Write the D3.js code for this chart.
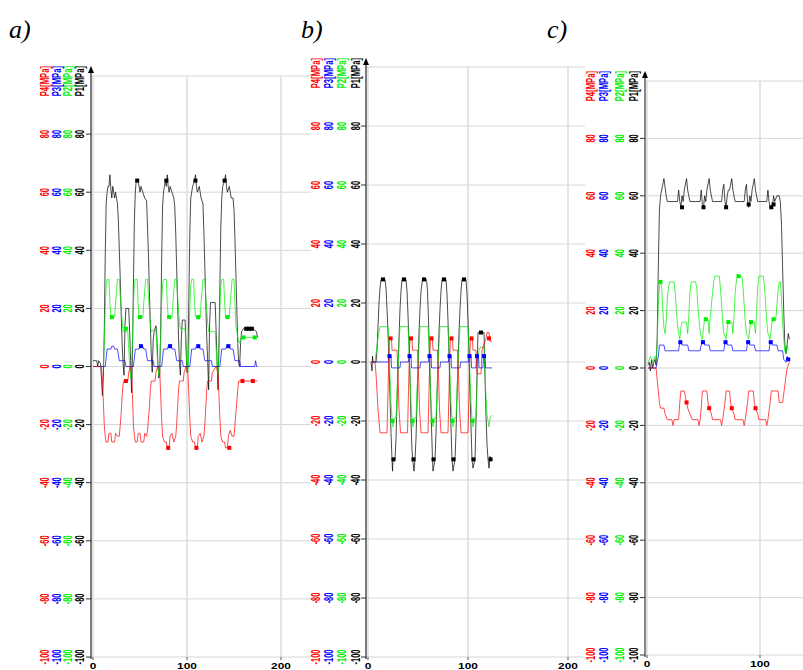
<!DOCTYPE html>
<html>
<head>
<meta charset="utf-8">
<script src="https://cdn.jsdelivr.net/npm/d3@7"></script>
<style>
  body { margin: 0; background: #fff; }
  svg { display: block; }
  .tick-lbl { font-family: 'Liberation Sans', Arial, sans-serif; font-size: 12px; font-weight: bold; }
  .x-lbl { font-family: 'Liberation Sans', Arial, sans-serif; font-size: 9.5px; font-weight: bold; }
  .panel-lbl { font-family: 'Liberation Serif', 'Times New Roman', serif; font-style: italic; font-size: 26px; }
</style>
</head>
<body>
<svg id="chart" width="803" height="670"></svg>
<script>
// ---- data: [time, pressure MPa] ----
const seriesNames = ['P1', 'P2', 'P3', 'P4'];
const seriesColors = ['#000000', '#00ee00', '#0000ff', '#ff0000'];
const yTicks = [-100, -80, -60, -40, -20, 0, 20, 40, 60, 80, 100];
const yTickLabels = ['-100', '-80', '-60', '-40', '-20', '0', '20', '40', '60', '80'];
const panelLabels = ['a)', 'b)', 'c)'];
const xTicksAB = [0, 100, 200];
const xTicksC = [0, 100];

// panel a
const aP1 = [[0,2],[4,2],[5,0],[6,2],[8,1],[9,-4],[10,-10],[11,-4],[12,12],[13,38],[14,56],[15,60],[16,62],[17,62],[18,66],[19,61],[20,58],[21,62],[22,60],[23,58],[24,60],[25,58],[26,56],[27,50],[28,40],[29,30],[30,18],[31,8],[32,1],[33,-3],[34,14],[35,20],[38,20],[39,12],[40,2],[41,-9],[42,4],[43,28],[44,50],[45,60],[46,64],[48,64],[49,62],[50,60],[51,62],[53,60],[55,58],[57,57],[58,48],[59,38],[60,26],[61,14],[62,4],[63,-2],[64,9],[65,12],[67,14],[68,10],[69,1],[70,-4],[71,-2],[72,12],[73,36],[74,55],[75,60],[76,62],[77,64],[78,62],[79,66],[80,62],[81,60],[82,62],[84,60],[86,58],[87,55],[88,46],[89,34],[90,22],[91,10],[92,1],[93,-3],[94,10],[95,16],[98,16],[99,6],[100,-2],[101,0],[102,24],[103,46],[104,58],[105,60],[106,62],[108,64],[109,66],[110,62],[111,60],[113,62],[115,58],[117,56],[118,46],[119,34],[120,22],[121,10],[122,2],[123,-8],[124,14],[125,22],[130,22],[131,12],[132,2],[133,-8],[134,8],[135,28],[136,48],[137,58],[138,62],[140,64],[141,66],[142,62],[143,60],[145,62],[147,58],[149,58],[150,54],[151,44],[152,32],[153,20],[154,8],[155,1],[156,0],[157,8],[158,12],[160,13],[170,13],[174,12],[175,10]];
const aP2 = [[0,0],[11,0],[12,8],[13,20],[14,28],[15,30],[17,30],[18,22],[19,17],[23,17],[24,22],[25,26],[26,30],[28,30],[29,24],[31,16],[32,12],[37,12],[38,6],[39,0],[40,-4],[41,0],[42,10],[43,22],[44,28],[45,30],[47,30],[48,22],[49,17],[53,17],[54,22],[55,26],[56,30],[58,30],[59,24],[61,15],[62,12],[67,13],[68,6],[69,0],[70,-3],[71,2],[72,10],[73,22],[74,28],[75,30],[78,30],[79,22],[80,17],[84,17],[85,22],[86,26],[87,30],[89,30],[90,24],[92,15],[93,13],[98,13],[99,6],[100,0],[101,-2],[102,6],[103,20],[104,28],[105,30],[107,30],[108,22],[109,17],[114,17],[115,22],[116,26],[117,30],[119,30],[120,24],[122,15],[123,12],[130,12],[131,6],[132,0],[133,-3],[134,4],[135,20],[136,28],[137,30],[139,30],[140,22],[141,17],[145,17],[146,22],[147,26],[148,30],[150,30],[151,22],[152,14],[154,10],[156,8],[158,10],[175,10]];
const aP3 = [[0,0],[13,0],[14,3],[15,6],[19,6],[20,7],[22,7],[23,6],[26,6],[27,4],[28,2],[34,2],[35,0],[43,0],[44,3],[45,6],[49,6],[50,7],[53,7],[54,6],[56,6],[57,4],[58,2],[64,2],[65,0],[73,0],[74,3],[75,6],[79,6],[80,7],[83,7],[84,6],[87,6],[88,4],[89,2],[95,2],[96,0],[103,0],[104,3],[105,6],[109,6],[110,7],[113,7],[114,6],[117,6],[118,4],[119,2],[126,2],[127,0],[135,0],[136,3],[137,6],[141,6],[142,7],[145,7],[146,6],[149,6],[150,4],[151,2],[156,2],[157,0],[172,0],[173,2],[174,0],[175,0]];
const aP4 = [[0,0],[9,0],[10,-4],[11,-12],[12,-20],[13,-24],[14,-26],[16,-26],[17,-23],[19,-23],[20,-26],[23,-26],[24,-23],[26,-24],[28,-24],[29,-20],[30,-16],[31,-10],[32,-6],[33,-5],[37,-5],[38,-2],[40,0],[41,-2],[42,-10],[43,-20],[44,-24],[45,-26],[47,-26],[48,-23],[50,-23],[51,-26],[54,-26],[55,-23],[57,-24],[58,-22],[59,-18],[60,-14],[61,-8],[62,-5],[66,-5],[67,-2],[69,0],[71,-1],[72,-10],[73,-18],[74,-24],[76,-26],[78,-26],[79,-28],[81,-28],[82,-24],[84,-23],[86,-26],[88,-24],[89,-20],[90,-14],[91,-8],[92,-5],[96,-5],[97,-2],[99,0],[101,-2],[102,-10],[103,-18],[104,-24],[106,-26],[108,-26],[109,-28],[111,-28],[112,-24],[114,-23],[116,-26],[118,-24],[119,-20],[120,-14],[121,-8],[122,-5],[126,-5],[127,-2],[131,0],[133,-2],[134,-10],[135,-18],[136,-24],[138,-26],[140,-26],[141,-28],[143,-28],[144,-24],[146,-22],[148,-24],[150,-24],[151,-20],[152,-16],[153,-12],[154,-8],[155,-5],[175,-5]];
// dense spots in the recording: [time, value, series index]
const aMarks = [[47,64,0],[78,64,0],[109,64,0],[140,64,0],[163,13,0],[166,13,0],[169,13,0],[20,17,1],[50,17,1],[81,17,1],[112,17,1],[143,17,1],[35,13,1],[160,10,1],[172,10,1],[51,7,2],[82,7,2],[112,7,2],[144,7,2],[35,-5,3],[80,-28,3],[110,-28,3],[145,-28,3],[159,-5,3],[170,-5,3]];

// panel b
const bP1 = [[3,0],[4,-3],[4.5,2],[5,0],[8,0],[9,4],[10,12],[11,20],[12,25],[13,28],[17,28],[18,25],[19,18],[20,10],[21,0],[22,-12],[23,-24],[24,-33],[24.5,-37],[25,-33],[27,-33],[28,-26],[29,-14],[30,-2],[31,8],[32,18],[33,24],[34,28],[38,28],[39,24],[40,16],[41,6],[42,-6],[43,-20],[44,-30],[45,-34],[46,-37],[47,-33],[48,-26],[49,-14],[50,-2],[51,10],[52,18],[53,24],[54.5,28],[58.5,28],[59.5,24],[60.5,14],[61.5,2],[62.5,-10],[63.5,-22],[64.5,-33],[65,-37],[67,-33],[68,-24],[69,-12],[70,0],[71,10],[72,18],[73,24],[74,28],[78,28],[79,23],[80,14],[81,2],[82,-10],[83,-22],[84,-33],[85,-37],[87,-33],[88,-24],[89,-12],[90,0],[91,10],[92,18],[93,24],[94,28],[98,28],[99,23],[100,14],[101,2],[102,-10],[103,-22],[104,-33],[105,-36],[107,-33],[108,-20],[109,-5],[110,10],[116,10],[117,-5],[118,-18],[119,-28],[120,-33],[121,-36],[122,-32],[124,-33]];
const bP2 = [[3,0],[7,0],[8,3],[10,8],[12,12],[20,12],[21,5],[22,-5],[23,-14],[24,-19],[25,-22],[26,-19],[28,-19],[29,-10],[30,-2],[31,6],[32,12],[40,12],[41,5],[42,-5],[43,-14],[44,-19],[45,-22],[46,-19],[48,-19],[49,-10],[50,-2],[51,6],[52,12],[60,12],[61,5],[62,-5],[63,-14],[64,-19],[65,-22],[66,-19],[68,-19],[69,-10],[70,-2],[71,6],[72,12],[80,12],[81,5],[82,-5],[83,-14],[84,-19],[85,-22],[86,-19],[88,-19],[89,-10],[90,-2],[91,6],[92,12],[100,12],[101,5],[102,-5],[103,-14],[104,-19],[105,-22],[106,-19],[108,-19],[109,-8],[110,0],[111,4],[112,5],[116,5],[117,-4],[118,-12],[119,-18],[120,-20],[121,-22],[122,-19],[124,-18]];
const bP3 = [[3,0],[20.5,0],[21,2],[23,2],[23.5,-2],[32,-2],[32.5,0],[40.5,0],[41,2],[43,2],[43.5,-2],[52,-2],[52.5,0],[60.5,0],[61,2],[63,2],[63.5,-2],[72,-2],[72.5,0],[80.5,0],[81,2],[83,2],[83.5,-2],[92,-2],[92.5,0],[100.5,0],[101,2],[103,2],[103.5,-2],[108,-2],[108.5,2],[110.5,2],[111,-2],[115,-2],[115.5,2],[117,2],[117.5,-2],[124,-2]];
const bP4 = [[3,0],[7,0],[8,-4],[10,-16],[12,-24],[19,-24],[20,-10],[21,4],[21.5,8],[23.5,8],[24,4],[29,4],[30,-4],[31,-16],[32.5,-24],[39.5,-24],[40.5,-10],[41.5,4],[42,8],[44,8],[44.5,4],[49.5,4],[50.5,-4],[51.5,-16],[53,-24],[60,-24],[61,-10],[62,4],[62.5,8],[64.5,8],[65,4],[69.5,4],[70.5,-4],[71.5,-16],[73,-24],[80,-24],[81,-10],[82,4],[82.5,8],[84.5,8],[85,4],[89.5,4],[90.5,-4],[91.5,-16],[93,-24],[100,-24],[101,-10],[102,4],[102.5,8],[104.5,8],[105,4],[108,4],[109,-4],[113,-4],[114,4],[118,8],[119,10],[121,10],[122,7],[124,7]];
const bMarks = [[15,28,0],[36,28,0],[56,28,0],[76,28,0],[96,28,0],[25.5,-33,0],[45.5,-33,0],[65.5,-33,0],[85.5,-33,0],[105.5,-33,0],[122.5,-33,0],[113,10,0],[24.5,-20,1],[44.5,-20,1],[64.5,-20,1],[84.5,-20,1],[104.5,-20,1],[21.5,2,2],[41.5,2,2],[61.5,2,2],[81.5,2,2],[101.5,2,2],[109,2,2],[116,2,2],[22.5,8,3],[43,8,3],[63.5,8,3],[83.5,8,3],[103.5,8,3],[121,8,3]];

// panel c
const cP1 = [[1,1],[2,2],[3,-1],[4,3],[5,0],[6,2],[7,3],[8,1],[9,10],[10,35],[11,55],[12,60],[13,62],[14,64],[15,66],[16,63],[17,60],[18,58],[27,58],[28,62],[29,58],[30,56],[31,60],[32,58],[33,62],[35,66],[36,62],[38,58],[47,58],[48,62],[49,57],[50,56],[51,60],[52,58],[53,62],[55,66],[56,62],[58,58],[66,58],[67,62],[68,64],[69,58],[70,56],[71,60],[72,62],[73,62],[75,66],[76,62],[78,58],[86,58],[87,62],[88,64],[89,58],[90,56],[91,60],[92,58],[93,62],[95,66],[96,62],[98,58],[106,58],[107,62],[108,58],[109,56],[111,56],[112,60],[113,58],[115,60],[117,60],[118,58],[119,50],[120,35],[121,20],[122,8],[123,5],[124,8],[125,12],[126,10]];
const cP2 = [[1,2],[3,4],[5,2],[7,4],[8,3],[9,8],[10,22],[11,28],[12,30],[13,28],[14,20],[15,14],[16,12],[17,16],[18,24],[19,28],[20,30],[24,30],[25,26],[26,20],[27,15],[28,12],[29,10],[30,14],[31,16],[35,16],[36,12],[37,18],[38,26],[39,30],[43,30],[44,28],[45,22],[46,17],[47,13],[48,11],[49,10],[50,14],[51,17],[54,17],[55,12],[56,18],[58,26],[59,30],[60,32],[64,32],[65,28],[66,22],[67,16],[68,12],[70,10],[71,14],[72,16],[75,16],[76,12],[77,18],[78,26],[79,30],[80,32],[84,32],[85,28],[86,22],[87,16],[88,12],[90,10],[91,14],[92,16],[95,16],[96,12],[97,20],[98,28],[99,32],[103,32],[104,28],[105,22],[106,16],[107,12],[109,10],[110,14],[111,17],[114,17],[115,22],[116,27],[117,30],[118,30],[119,24],[120,16],[121,10],[122,6],[123,5],[124,8],[125,6]];
const cP3 = [[1,0],[8,0],[9,2],[10,4],[11,8],[15,8],[16,6],[28,6],[29,9],[30,9],[31,8],[36,8],[37,6],[47,6],[48,8],[49,9],[50,9],[51,8],[55,8],[56,6],[68,6],[69,9],[70,9],[71,8],[75,8],[76,6],[88,6],[89,9],[90,9],[91,8],[95,8],[96,6],[108,6],[109,9],[110,9],[111,8],[115,8],[116,6],[120,6],[121,3],[123,2],[124,4],[125,3],[126,3]];
const cP4 = [[1,0],[8,0],[9,-4],[10,-8],[11,-12],[12,-14],[15,-14],[16,-16],[18,-18],[22,-18],[23,-20],[24,-18],[28,-18],[29,-12],[30,-8],[33,-8],[34,-10],[35,-12],[36,-14],[38,-16],[40,-18],[45,-18],[46,-20],[47,-18],[48,-14],[49,-8],[53,-8],[54,-12],[55,-14],[57,-16],[58,-18],[65,-18],[66,-20],[67,-18],[69,-12],[70,-8],[73,-8],[74,-12],[75,-14],[77,-16],[78,-18],[85,-18],[86,-20],[87,-18],[89,-12],[90,-8],[94,-8],[95,-12],[96,-14],[98,-16],[99,-18],[105,-18],[106,-20],[107,-18],[109,-12],[110,-8],[116,-8],[117,-12],[120,-12],[121,-9],[122,-6],[123,-3],[124,0],[126,2]];
const cMarks = [[31,56,0],[50,56,0],[70,56,0],[90,57,0],[110,56,0],[112,57,0],[12,30,1],[52,17,1],[72,16,1],[81,32,1],[92,16,1],[112,17,1],[29.5,9,2],[49.5,9,2],[69.5,9,2],[89.5,9,2],[109.5,9,2],[125,3,2],[35,-12,3],[55,-14,3],[75,-14,3],[96,-14,3]];

// ---- layout ----
const panels = [
  { label: panelLabels[0], labelX: 9, axisX: 91, arrowTop: 66, yTop: 76, yBot: 657,
    xRange: [93, 281], xDomain: [0, 200], right: 311, cols: [80, 68, 57, 45], xTicks: xTicksAB,
    axisColor: '#222', axisW: 1.2, series: [aP1, aP2, aP3, aP4], marks: aMarks },
  { label: panelLabels[1], labelX: 301, axisX: 366, arrowTop: 58, yTop: 67, yBot: 657,
    xRange: [368, 568], xDomain: [0, 200], right: 585, cols: [356, 342, 329, 316], xTicks: xTicksAB,
    axisColor: '#222', axisW: 1.2, series: [bP1, bP2, bP3, bP4], marks: bMarks },
  { label: panelLabels[2], labelX: 547, axisX: 645, arrowTop: 71, yTop: 81, yBot: 655,
    xRange: [647, 760], xDomain: [0, 100], right: 803, cols: [634, 620, 604, 591], xTicks: xTicksC,
    axisColor: '#888', axisW: 2, series: [cP1, cP2, cP3, cP4], marks: cMarks }
];

const svg = d3.select('#chart');

panels.forEach(p => {
  const g = svg.append('g');
  const x = d3.scaleLinear().domain(p.xDomain).range(p.xRange);
  const y = d3.scaleLinear().domain([-100, 100]).range([p.yBot, p.yTop]);

  // grid
  g.selectAll('.hgrid').data(yTicks).join('line')
    .attr('x1', p.axisX).attr('x2', p.right)
    .attr('y1', d => y(d)).attr('y2', d => y(d))
    .attr('stroke', '#d6d6d6').attr('stroke-width', 1);
  const xMax = x.invert(p.right);
  g.selectAll('.vgrid').data(d3.range(0, xMax, 100)).join('line')
    .attr('x1', d => x(d)).attr('x2', d => x(d))
    .attr('y1', p.yTop).attr('y2', p.yBot)
    .attr('stroke', '#dcdcdc').attr('stroke-width', 1.5);

  // data
  const line = d3.line().x(d => x(d[0])).y(d => y(d[1]));
  p.series.forEach((s, i) => {
    g.append('path').datum(s)
      .attr('d', line)
      .attr('fill', 'none')
      .attr('stroke', seriesColors[i])
      .attr('stroke-opacity', 0.7)
      .attr('stroke-width', 1);
  });
  g.selectAll('.mark').data(p.marks).join('rect')
    .attr('x', d => x(d[0]) - 2).attr('y', d => y(d[1]) - 2)
    .attr('width', 4).attr('height', 4)
    .attr('fill', d => seriesColors[d[2]]);

  // y axis line + arrow
  g.append('line')
    .attr('x1', p.axisX).attr('x2', p.axisX)
    .attr('y1', p.arrowTop + 4).attr('y2', p.yBot + 2)
    .attr('stroke', p.axisColor).attr('stroke-width', p.axisW);
  g.append('path')
    .attr('d', `M${p.axisX},${p.arrowTop} L${p.axisX - 3},${p.arrowTop + 7} L${p.axisX + 3},${p.arrowTop + 7} Z`)
    .attr('fill', '#000');
  g.selectAll('.ytick').data(yTicks.slice(0, -1)).join('line')
    .attr('x1', p.axisX - 5).attr('x2', p.axisX)
    .attr('y1', d => y(d)).attr('y2', d => y(d))
    .attr('stroke', '#333').attr('stroke-width', 1);

  // rotated, condensed tick labels, one column per series
  p.cols.forEach((cx, i) => {
    g.selectAll(null).data(yTickLabels).join('text')
      .attr('class', 'tick-lbl')
      .attr('fill', seriesColors[i])
      .attr('text-anchor', 'middle')
      .attr('transform', (d, k) => `translate(${cx},${y(yTicks[k])}) rotate(-90) scale(0.62,1)`)
      .attr('dy', '0.35em')
      .text(d => d);
    g.append('text')
      .attr('class', 'tick-lbl')
      .attr('fill', seriesColors[i])
      .attr('text-anchor', 'end')
      .attr('transform', `translate(${cx},${p.arrowTop}) rotate(-90) scale(0.64,1)`)
      .attr('dy', '0.35em')
      .text(seriesNames[i] + '[MPa]');
  });

  // x axis ticks
  g.selectAll('.xtick').data(p.xTicks).join('line')
    .attr('x1', d => x(d)).attr('x2', d => x(d))
    .attr('y1', p.yBot).attr('y2', p.yBot + 3)
    .attr('stroke', '#555');
  g.selectAll('.xlbl').data(p.xTicks).join('text')
    .attr('class', 'x-lbl')
    .attr('text-anchor', 'middle')
    .attr('transform', d => `translate(${x(d)},${p.yBot + 12}) scale(1.25,1)`)
    .text(d => d);

  svg.append('text').attr('class', 'panel-lbl')
    .attr('x', p.labelX).attr('y', 38)
    .text(p.label);
});
</script>
</body>
</html>
